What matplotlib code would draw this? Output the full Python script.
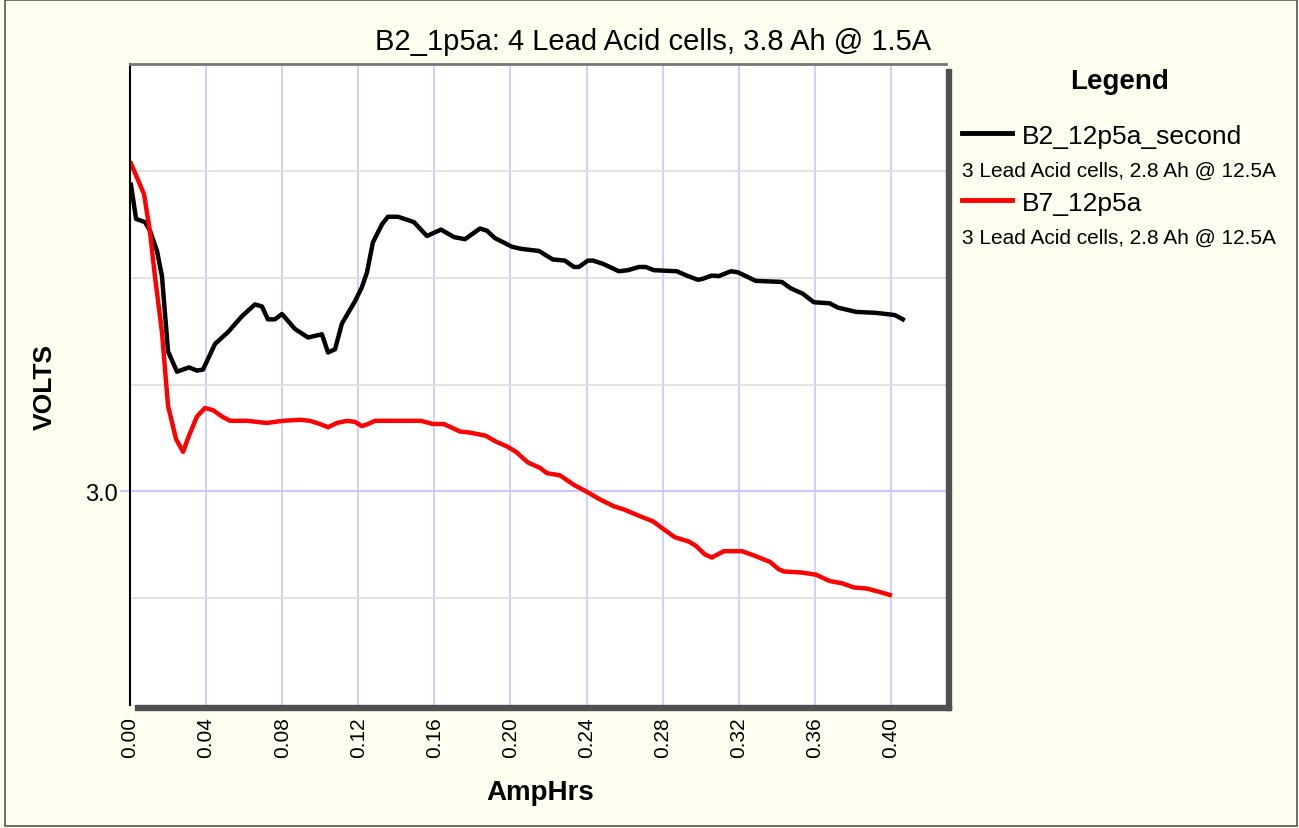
import matplotlib
matplotlib.use("Agg")
import matplotlib.pyplot as plt
from matplotlib.patches import Rectangle
from matplotlib.lines import Line2D

plt.rcParams['font.family'] = ['Liberation Sans', 'DejaVu Sans']

title = "B2_1p5a: 4 Lead Acid cells, 3.8 Ah @ 1.5A"
x_label = "AmpHrs"
y_label = "VOLTS"
series_names = ["B2_12p5a_second", "B7_12p5a"]
series_notes = ["3 Lead Acid cells, 2.8 Ah @ 12.5A", "3 Lead Acid cells, 2.8 Ah @ 12.5A"]
x_ticks = [0.00, 0.04, 0.08, 0.12, 0.16, 0.20, 0.24, 0.28, 0.32, 0.36, 0.40]
y_minor_ticks = [2.9, 3.1, 3.2, 3.3]
y_major_ticks = [3.0]

b2_x = [0.0005, 0.0032, 0.0079, 0.0105, 0.0142, 0.0168, 0.0200, 0.0247, 0.0310, 0.0352,
        0.0384, 0.0447, 0.0515, 0.0589, 0.0657, 0.0694, 0.0725, 0.0762, 0.0799, 0.0867,
        0.0936, 0.1009, 0.1041, 0.1078, 0.1114, 0.1183, 0.1219, 0.1246, 0.1277, 0.1325,
        0.1356, 0.1409, 0.1493, 0.1561, 0.1635, 0.1703, 0.1761, 0.1840, 0.1876, 0.1919,
        0.2008, 0.2055, 0.2150, 0.2223, 0.2286, 0.2334, 0.2360, 0.2407, 0.2434, 0.2486,
        0.2570, 0.2618, 0.2675, 0.2712, 0.2754, 0.2875, 0.2933, 0.2986, 0.3012, 0.3059,
        0.3096, 0.3159, 0.3196, 0.3290, 0.3427, 0.3474, 0.3537, 0.3595, 0.3679, 0.3721,
        0.3816, 0.3926, 0.4021, 0.4063]
b2_v = [3.287, 3.255, 3.252, 3.244, 3.225, 3.2015, 3.131, 3.112, 3.116, 3.113,
        3.114, 3.138, 3.149, 3.164, 3.175, 3.173, 3.161, 3.161, 3.166, 3.152,
        3.144, 3.147, 3.130, 3.133, 3.157, 3.178, 3.191, 3.205, 3.233, 3.250,
        3.257, 3.257, 3.252, 3.239, 3.245, 3.238, 3.236, 3.246, 3.244, 3.237,
        3.229, 3.227, 3.225, 3.217, 3.216, 3.210, 3.210, 3.216, 3.216, 3.213,
        3.206, 3.207, 3.210, 3.210, 3.207, 3.206, 3.2015, 3.198, 3.199, 3.202,
        3.2015, 3.206, 3.205, 3.197, 3.196, 3.190, 3.185, 3.177, 3.176, 3.172,
        3.168, 3.167, 3.165, 3.161]

b7_x = [0.0005, 0.0074, 0.0105, 0.0131, 0.0168, 0.0200, 0.0242, 0.0279, 0.0310, 0.0352,
        0.0394, 0.0436, 0.0484, 0.0526, 0.0615, 0.0720, 0.0804, 0.0894, 0.0946, 0.0999,
        0.1041, 0.1088, 0.1141, 0.1183, 0.1219, 0.1251, 0.1288, 0.1419, 0.1530, 0.1593,
        0.1650, 0.1735, 0.1787, 0.1871, 0.1919, 0.1982, 0.2029, 0.2092, 0.2155, 0.2192,
        0.2260, 0.2334, 0.2407, 0.2470, 0.2544, 0.2597, 0.2691, 0.2749, 0.2802, 0.2865,
        0.2938, 0.2975, 0.3022, 0.3059, 0.3122, 0.3217, 0.3280, 0.3364, 0.3411, 0.3438,
        0.3532, 0.3606, 0.3679, 0.3742, 0.3806, 0.3874, 0.3937, 0.3995]
b7_v = [3.307, 3.278, 3.243, 3.2015, 3.149, 3.080, 3.049, 3.037, 3.052, 3.070,
        3.078, 3.076, 3.070, 3.066, 3.066, 3.064, 3.066, 3.067, 3.066, 3.063,
        3.060, 3.064, 3.066, 3.065, 3.061, 3.063, 3.066, 3.066, 3.066, 3.063,
        3.063, 3.056, 3.055, 3.052, 3.047, 3.042, 3.037, 3.027, 3.022, 3.017,
        3.015, 3.006, 2.999, 2.9925, 2.986, 2.983, 2.976, 2.972, 2.965, 2.957,
        2.953, 2.949, 2.941, 2.938, 2.944, 2.944, 2.940, 2.934, 2.927, 2.925,
        2.924, 2.922, 2.916, 2.914, 2.910, 2.909, 2.906, 2.903]

W, H = 1299, 829
bg = '#FFFFF0'
fig = plt.figure(figsize=(W / 100, H / 100), dpi=100, facecolor=bg)

def fx(px):
    return px / W

def fy(py):
    return 1 - py / H

L, R, T, B = 130, 946, 65, 706
ax = fig.add_axes([fx(L), fy(B), fx(R) - fx(L), fy(T) - fy(B)])
ax.set_facecolor('white')

# shadow for 3D frame
sh = 5
fig.patches.append(Rectangle((fx(R), fy(B + sh)), fx(sh), fy(T + sh) - fy(B + sh),
                             transform=fig.transFigure, color='#505050', zorder=0))
fig.patches.append(Rectangle((fx(L + sh), fy(B + sh)), fx(R - L), fy(B) - fy(B + sh),
                             transform=fig.transFigure, color='#505050', zorder=0))
# outer border
fig.patches.append(Rectangle((fx(5), fy(827)), fx(1292), fy(1) - fy(827), transform=fig.transFigure,
                             fill=False, edgecolor='#555555', lw=1.2, zorder=0))

ax.set_xlim(0, 0.429)
ax.set_ylim(2.8, 3.4)

ax.set_xticks(x_ticks)
ax.set_xticklabels([f"{v:.2f}" for v in x_ticks], rotation=90, fontsize=15)
ax.set_yticks(y_major_ticks)
ax.set_yticklabels([f"{v:.1f}" for v in y_major_ticks], fontsize=17)
ax.set_yticks(y_minor_ticks, minor=True)
ax.tick_params(axis='y', which='major', length=7, color='#C8C8FF', width=1.5, pad=2)
ax.tick_params(axis='y', which='minor', length=0)
ax.tick_params(axis='x', which='major', length=0, pad=8)

ax.grid(True, axis='x', which='major', color='#C8C8FF', lw=1.2)
ax.grid(True, axis='y', which='major', color='#C8C8FF', lw=1.5)
ax.grid(True, axis='y', which='minor', color='#DDDDDD', lw=1.2)
ax.set_axisbelow(True)

for side in ['right', 'bottom']:
    ax.spines[side].set_visible(False)
ax.spines['left'].set_color('black')
ax.spines['left'].set_linewidth(1.5)
ax.spines['top'].set_color('#777777')
ax.spines['top'].set_linewidth(2)

ax.plot(b2_x, b2_v, color='black', lw=3.2, solid_joinstyle='round')
ax.plot(b7_x, b7_v, color='#FF0000', lw=3.2, solid_joinstyle='round')

fig.text(fx(653), fy(50), title, ha='center', va='baseline', fontsize=21)
fig.text(fx(540), fy(793), x_label, ha='center', va='center', fontsize=20, fontweight='bold')
fig.text(fx(45), fy(387), y_label, ha='center', va='center', fontsize=19, fontweight='bold', rotation=90)

# legend
fig.text(fx(1120), fy(82), "Legend", ha='center', va='center', fontsize=20, fontweight='bold')
colors = ['black', '#FF0000']
ys = [134, 201]
for name, note, c, y in zip(series_names, series_notes, colors, ys):
    fig.add_artist(Line2D([fx(962), fx(1012)], [fy(y), fy(y)], transform=fig.transFigure,
                          color=c, lw=3.5))
    fig.text(fx(1022), fy(y + 3), name, ha='left', va='center', fontsize=19)
    fig.text(fx(962), fy(y + 37), note, ha='left', va='center', fontsize=15)

fig.savefig('out.png', dpi=100, facecolor=bg)
